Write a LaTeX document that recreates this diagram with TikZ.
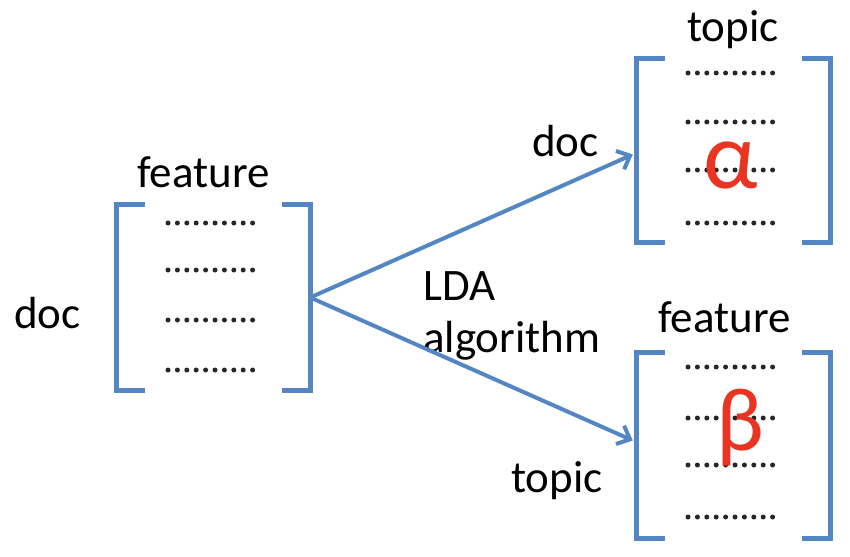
\documentclass[tikz,border=0pt]{standalone}
\usepackage{fontspec}
\setmainfont{Carlito}
\usetikzlibrary{arrows.meta}
\definecolor{brk}{RGB}{84,134,196}
\definecolor{grk}{RGB}{232,52,32}
\begin{document}
\begin{tikzpicture}[x=1pt,y=-1pt,
  lbl/.style={inner sep=0pt,font=\fontsize{45}{54}\selectfont,text=black},
  mat/.style={inner sep=0pt,draw=none},
  bracket/.style={draw=brk,line width=5pt,line join=miter},
  dotrow/.style={draw=black!85,line width=5pt,line cap=round,dash pattern=on 0pt off 9.4pt},
  link/.style={draw=brk,line width=4pt,-{Straight Barb[length=11pt,width=20pt,line width=4pt]}},
  greek/.style={inner sep=0pt,text=grk}]
\useasboundingbox (0,0) rectangle (850,556);
% matrices
\node[mat,minimum width=193pt,minimum height=185pt] (L) at (213.5,297.5) {};
\node[mat,minimum width=193pt,minimum height=183pt] (A) at (733.5,150.5) {};
\node[mat,minimum width=193pt,minimum height=185pt] (B) at (733.5,445.5) {};
% brackets
\foreach \m in {L,A,B}{
  \draw[bracket] ([xshift=28pt]\m.north west) -- (\m.north west) -- (\m.south west) -- ([xshift=28pt]\m.south west);
  \draw[bracket] ([xshift=-28pt]\m.north east) -- (\m.north east) -- (\m.south east) -- ([xshift=-28pt]\m.south east);
}
% dotted rows
\foreach \y in {223,270,320,370}{ \draw[dotrow] (168,\y) -- (254,\y); }
\foreach \y in {73,122,170,223}{ \draw[dotrow] (688,\y) -- (778,\y); }
\foreach \y in {367,418,465,517}{ \draw[dotrow] (688,\y) -- (778,\y); }
% greek letters
\node[greek,anchor=base,font=\fontsize{96}{100}\selectfont] (alpha) at (731,188) {α};
\node[greek,anchor=base,font=\fontsize{90}{100}\selectfont] (beta) at (740,450) {β};
% labels
\node[lbl,anchor=base west] (docL) at (14,328) {doc};
\node[lbl,anchor=base west] (featL) at (137,187) {feature};
\node[lbl,anchor=base west] (topicA) at (687,42) {topic};
\node[lbl,anchor=base west] (docA) at (532,157) {doc};
\node[lbl,anchor=base west] (lda) at (423,300) {LDA};
\node[lbl,anchor=base west] (algo) at (423,352) {algorithm};
\node[lbl,anchor=base west] (featB) at (658,332) {feature};
\node[lbl,anchor=base west] (topicB) at (511,492) {topic};
% connectors
\coordinate (tipA) at ([xshift=-4pt,yshift=-4pt]A.west);
\coordinate (tipB) at ([xshift=-4pt,yshift=5pt]B.west);
\draw[link] (L.east) -- (tipA);
\draw[link] (L.east) -- (tipB);
\end{tikzpicture}
\end{document}
